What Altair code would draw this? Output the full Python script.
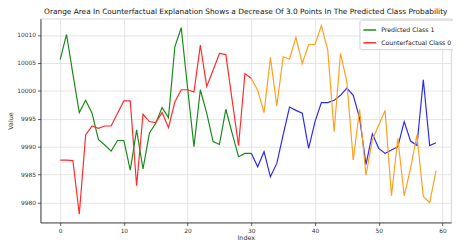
import altair as alt
import pandas as pd

idx_a = list(range(0, 31))
idx_b = list(range(30, 60))

pred_a = [10005.6, 10010.1, 10003.0, 9996.1, 9998.3, 9996.0, 9991.3, 9990.3, 9989.2, 9991.1,
          9991.1, 9985.8, 9993.0, 9986.0, 9992.4, 9994.2, 9997.0, 9995.2, 10007.9, 10011.3,
          10000.5, 9990.0, 10000.2, 9996.0, 9990.9, 9990.4, 9996.7, 9992.4, 9988.2, 9988.8,
          9988.8]
cf_a = [9987.6, 9987.6, 9987.5, 9977.9, 9992.1, 9993.7, 9993.3, 9993.7, 9993.7, 9996.0,
        9998.2, 9998.2, 9983.0, 9995.8, 9994.5, 9994.3, 9996.1, 9993.4, 9998.0, 10000.2,
        10000.2, 9999.8, 10008.2, 10000.8, 10003.7, 10006.7, 10006.5, 9998.3, 9990.2, 10003.1,
        10002.2]
pred_b = [9988.8, 9986.4, 9989.1, 9984.6, 9987.0, 9992.1, 9997.1, 9996.5, 9996.0, 9989.7,
          9994.5, 9997.9, 9997.9, 9998.3, 9999.2, 10000.5, 9999.2, 9995.1, 9986.8, 9992.3,
          9989.7, 9988.8, 9989.4, 9990.0, 9994.5, 9991.0, 9990.2, 10002.0, 9990.2, 9990.7]
cf_b = [10002.2, 10000.1, 9996.1, 10006.0, 9997.3, 10006.1, 10005.7, 10009.6, 10004.9, 10008.3,
        10008.3, 10011.7, 10007.3, 9992.7, 10006.7, 10001.6, 9987.6, 9996.7, 9984.9, 9991.2,
        9993.9, 9996.5, 9981.2, 9991.5, 9981.2, 9986.1, 9992.1, 9981.1, 9980.0, 9985.7]

x_ticks = [0, 10, 20, 30, 40, 50, 60]
y_ticks = [9980, 9985, 9990, 9995, 10000, 10005, 10010]

series_names = ["Predicted Class 1", "Counterfactual Class 0",
                "Predicted (changed)", "Counterfactual (changed)"]
series_colors = ["#1a8a1a", "#ff2a2a", "#2a2aee", "#ffa01e"]

rows = []
for name, xs, ys in [(series_names[0], idx_a, pred_a),
                     (series_names[1], idx_a, cf_a),
                     (series_names[2], idx_b, pred_b),
                     (series_names[3], idx_b, cf_b)]:
    for x, y in zip(xs, ys):
        rows.append({"series": name, "Index": x, "Value": y})
df = pd.DataFrame(rows)

base = alt.Chart(df).mark_line(strokeWidth=1.2, clip=True).encode(
    x=alt.X("Index:Q",
            scale=alt.Scale(domain=[-3.09, 61.35], nice=False, zero=False),
            axis=alt.Axis(values=x_ticks, title="Index", format="d")),
    y=alt.Y("Value:Q",
            scale=alt.Scale(domain=[9976.42, 10012.93], nice=False, zero=False),
            axis=alt.Axis(values=y_ticks, title="Value", format="d")),
    color=alt.Color("series:N",
                    scale=alt.Scale(domain=series_names, range=series_colors),
                    legend=alt.Legend(values=series_names[:2], title=None, orient="none",
                                      legendX=324, legendY=1, symbolType="stroke",
                                      symbolSize=170, symbolStrokeWidth=1.5,
                                      labelFontSize=6.3, labelColor="#222",
                                      fillColor="white", strokeColor="#d0d0d0",
                                      cornerRadius=2, padding=3, rowPadding=2,
                                      labelLimit=200, labelFont="DejaVu Sans")),
)

chart = base.properties(
    width=417, height=207,
    title=alt.Title("Orange Area In Counterfactual Explanation Shows a Decrease Of 3.0 Points In The Predicted Class Probability",
                    fontSize=7.5, fontWeight="normal", color="#111", offset=3, anchor="middle",
                    font="DejaVu Sans"),
    padding={"left": 33, "top": 9, "right": 2, "bottom": 19},
    autosize=alt.AutoSizeParams(type="none"),
).configure_view(
    stroke="#cccccc", strokeWidth=0.8
).configure_axis(
    domainColor="#333", domainWidth=0.9, tickColor="#333", tickSize=3, tickWidth=0.8,
    labelFontSize=6, labelColor="#333", titleFontSize=6.5, titleColor="#333",
    titleFontWeight="normal", gridColor="#dddddd", gridWidth=0.8, labelPadding=2,
    labelFont="DejaVu Sans", titleFont="DejaVu Sans"
).configure_axisX(titlePadding=1).configure_axisY(titlePadding=3)

chart.save("out.html", embed_options={"renderer": "svg", "actions": False})
